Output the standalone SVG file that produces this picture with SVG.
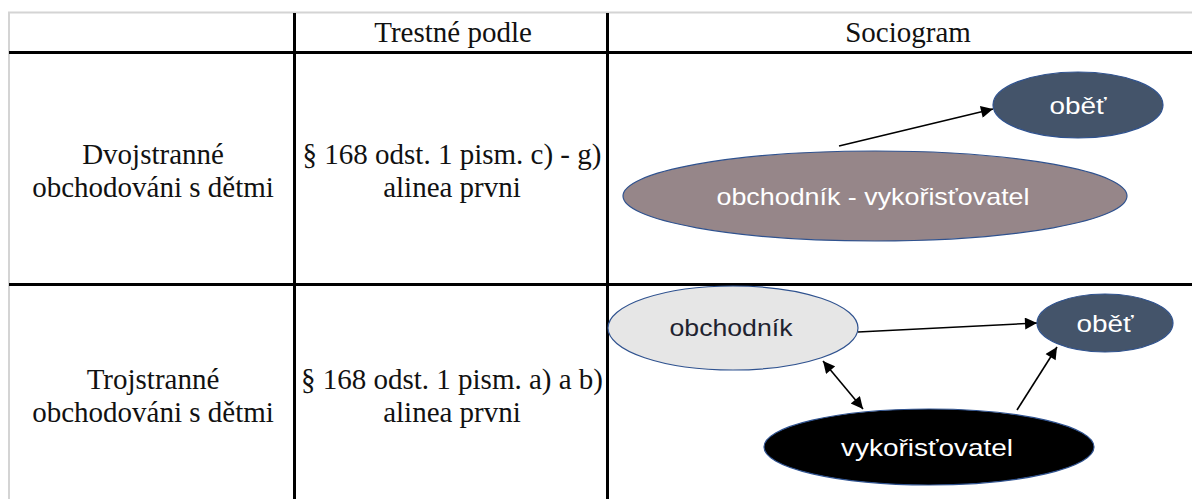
<svg xmlns="http://www.w3.org/2000/svg" width="1192" height="499" viewBox="0 0 1192 499">
<style>
.serif{font-family:"Liberation Serif","Times New Roman",serif;font-size:29px;fill:#111;text-anchor:middle}
.sans{font-family:"Liberation Sans",Arial,sans-serif;font-size:24px;text-anchor:middle}
.grid{stroke:#000;stroke-width:3;fill:none}
.frame{stroke:#d4d4d4;stroke-width:2;fill:none}
.conn{stroke:#000;stroke-width:1.6;fill:none}
</style>
<defs>
<marker id="ah" viewBox="0 0 10 10" refX="10" refY="5" markerUnits="userSpaceOnUse" markerWidth="14" markerHeight="12" orient="auto-start-reverse">
<path d="M0,0 L10,5 L0,10 z" fill="#000"/>
</marker>
</defs>
<rect width="1192" height="499" fill="#fff"/>
<g id="table">
<path class="frame" d="M9,499 V12.5 H1192"/>
<path class="grid" d="M9,52.5 H1192 M9,284.5 H1192 M294.5,13 V499 M607.5,13 V499"/>
<text class="serif" x="453" y="42">Trestné podle</text>
<text class="serif" x="908" y="42">Sociogram</text>
<text class="serif" x="153" y="164">Dvojstranné</text>
<text class="serif" x="153" y="197">obchodováni s dětmi</text>
<text class="serif" x="452" y="164">§ 168 odst. 1 pism. c) - g)</text>
<text class="serif" x="452" y="197">alinea prvni</text>
<text class="serif" x="153" y="389">Trojstranné</text>
<text class="serif" x="153" y="422">obchodováni s dětmi</text>
<text class="serif" x="452" y="389">§ 168 odst. 1 pism. a) a b)</text>
<text class="serif" x="452" y="422">alinea prvni</text>
</g>
<g id="connectors">
<line class="conn" x1="839" y1="146" x2="993" y2="109" marker-end="url(#ah)"/>
<line class="conn" x1="858" y1="332" x2="1037" y2="323" marker-end="url(#ah)"/>
<line class="conn" x1="823" y1="361" x2="863" y2="409" marker-start="url(#ah)" marker-end="url(#ah)"/>
<line class="conn" x1="1017" y1="410" x2="1057" y2="347" marker-end="url(#ah)"/>
</g>
<g id="node-obet1">
<ellipse cx="1078" cy="105" rx="85" ry="33" fill="#44546a" stroke="#2f528f" stroke-width="1.2"/>
<text class="sans" x="1078" y="114" fill="#fff" textLength="57" lengthAdjust="spacingAndGlyphs">oběť</text>
</g>
<g id="node-obchodnik-vykoristovatel">
<ellipse cx="875" cy="196" rx="252" ry="45" fill="#968689" stroke="#2f528f" stroke-width="1.2"/>
<text class="sans" x="873" y="205" fill="#fff" textLength="313" lengthAdjust="spacingAndGlyphs">obchodník - vykořisťovatel</text>
</g>
<g id="node-obchodnik">
<ellipse cx="733" cy="328" rx="125" ry="42" fill="#e6e6e6" stroke="#2f528f" stroke-width="1.2"/>
<text class="sans" x="731" y="336" fill="#1f2330" textLength="123" lengthAdjust="spacingAndGlyphs">obchodník</text>
</g>
<g id="node-obet2">
<ellipse cx="1105" cy="323" rx="68" ry="29" fill="#44546a" stroke="#2f528f" stroke-width="1.2"/>
<text class="sans" x="1105" y="332" fill="#fff" textLength="57" lengthAdjust="spacingAndGlyphs">oběť</text>
</g>
<g id="node-vykoristovatel">
<ellipse cx="929" cy="447" rx="165" ry="38" fill="#000" stroke="#2f528f" stroke-width="1.2"/>
<text class="sans" x="927" y="456" fill="#fff" textLength="172" lengthAdjust="spacingAndGlyphs">vykořisťovatel</text>
</g>
</svg>
